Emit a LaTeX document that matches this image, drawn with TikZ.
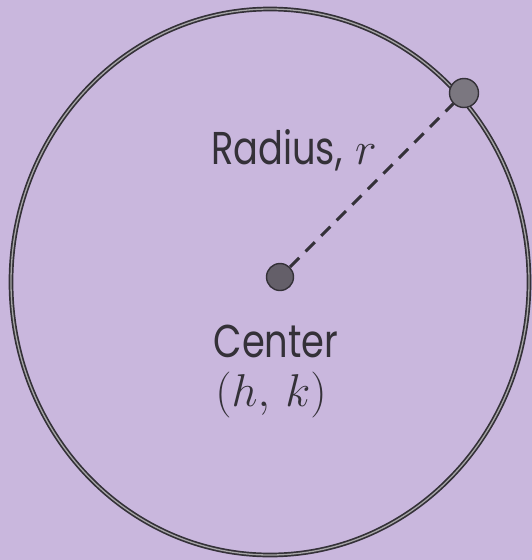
\documentclass[tikz,border=0pt]{standalone}
\usepackage{fix-cm}
\usepackage{fontspec}
\setmainfont{Poppins}
\usetikzlibrary{positioning}
\definecolor{paperLilac}{RGB}{201,183,221}
\definecolor{inkGray}{RGB}{52,49,56}
\definecolor{dotGray}{RGB}{100,95,105}

\begin{document}
\begin{tikzpicture}[x=1pt, y=-1pt, node distance=20pt]
    % Define styles
    \tikzstyle{dot} = [circle, draw=inkGray, line width=1.4pt, fill=dotGray, minimum size=27pt, inner sep=0pt]
    \tikzstyle{lbl} = [text=inkGray, font=\fontsize{46}{52}\selectfont, inner sep=0pt, anchor=base]
    \tikzstyle{rim} = [draw=inkGray, line width=1.7pt, double=black!35, double distance=1.3pt]

    % Background
    \fill[paperLilac] (0,0) rectangle (532,560);
    \useasboundingbox (0,0) rectangle (532,560);

    % Circle
    \draw[rim] (270,282) ellipse [x radius=259, y radius=273];

    % Nodes
    \node[dot] (ctr) at (280,277) {};
    \node[dot, minimum size=29pt, fill=dotGray!85!white] (pt) at (464,93) {};
    \node[lbl] (rad) at (294,164) {\scalebox{0.8}[1]{Radius,}\;$r$};
    \node[lbl] (ctrlbl) at (276,357) {\scalebox{0.8}[1]{Center}};
    \node[lbl] (hk) at (271,406) {$(h,\,k)$};

    % Radius line
    \draw[inkGray, line width=3pt, dash pattern=on 13pt off 9pt] (ctr) -- (pt);
\end{tikzpicture}
\end{document}
